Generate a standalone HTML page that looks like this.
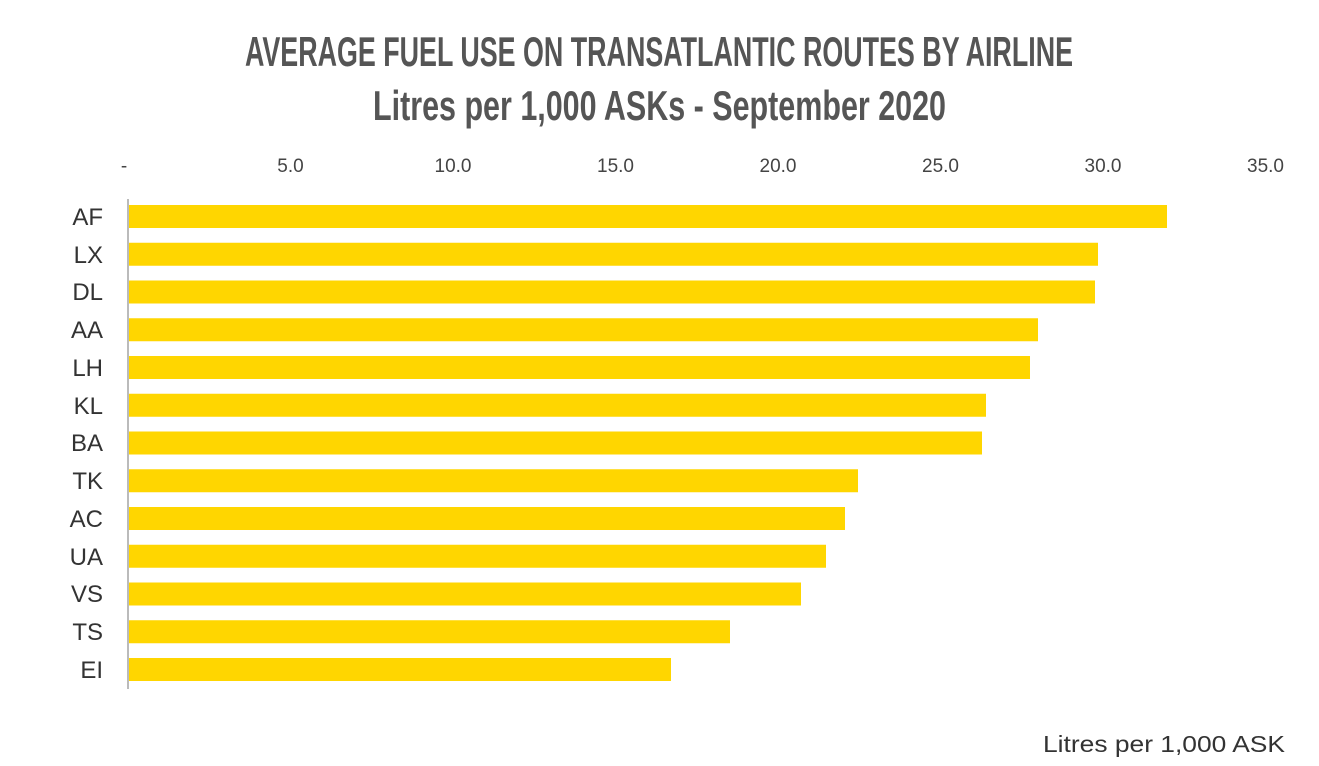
<!DOCTYPE html>
<html><head><meta charset="utf-8"><style>html,body{margin:0;padding:0;background:#fff}svg{display:block}</style></head>
<body>
<svg width="1319" height="766" viewBox="0 0 1319 766" xmlns="http://www.w3.org/2000/svg">
<g font-family="'Liberation Sans Narrow','Liberation Sans',sans-serif" font-weight="bold" fill="#555" font-size="42">
<text x="245" y="66" textLength="828" lengthAdjust="spacingAndGlyphs">AVERAGE FUEL USE ON TRANSATLANTIC ROUTES BY AIRLINE</text>
<text x="373" y="120" textLength="573" lengthAdjust="spacingAndGlyphs">Litres per 1,000 ASKs - September 2020</text>
</g>
<g font-family="'Liberation Sans',sans-serif" fill="#444" font-size="19" text-anchor="middle">
<text x="124" y="172">-</text>
<text x="290.5" y="172">5.0</text>
<text x="453" y="172">10.0</text>
<text x="615.5" y="172">15.0</text>
<text x="778" y="172">20.0</text>
<text x="940.5" y="172">25.0</text>
<text x="1103" y="172">30.0</text>
<text x="1265.5" y="172">35.0</text>
</g>
<line x1="128" y1="199" x2="128" y2="689" stroke="#bbb" stroke-width="2"/>
<g fill="#FFD600">
<rect x="129" y="205" width="1038" height="23"/>
<rect x="129" y="242.75" width="969" height="23"/>
<rect x="129" y="280.5" width="966" height="23"/>
<rect x="129" y="318.25" width="909" height="23"/>
<rect x="129" y="356" width="901" height="23"/>
<rect x="129" y="393.75" width="857" height="23"/>
<rect x="129" y="431.5" width="853" height="23"/>
<rect x="129" y="469.25" width="729" height="23"/>
<rect x="129" y="507" width="716" height="23"/>
<rect x="129" y="544.75" width="697" height="23"/>
<rect x="129" y="582.5" width="672" height="23"/>
<rect x="129" y="620.25" width="601" height="23"/>
<rect x="129" y="658" width="542" height="23"/>
</g>
<g font-family="'Liberation Sans',sans-serif" fill="#333" font-size="24" text-anchor="end">
<text x="103" y="225">AF</text>
<text x="103" y="263">LX</text>
<text x="103" y="300">DL</text>
<text x="103" y="338">AA</text>
<text x="103" y="376">LH</text>
<text x="103" y="414">KL</text>
<text x="103" y="451">BA</text>
<text x="103" y="489">TK</text>
<text x="103" y="527">AC</text>
<text x="103" y="565">UA</text>
<text x="103" y="602">VS</text>
<text x="103" y="640">TS</text>
<text x="103" y="678">EI</text>
</g>
<text x="1043" y="752" font-family="'Liberation Sans',sans-serif" fill="#333" font-size="23" textLength="242" lengthAdjust="spacingAndGlyphs">Litres per 1,000 ASK</text>
</svg>
</body></html>
